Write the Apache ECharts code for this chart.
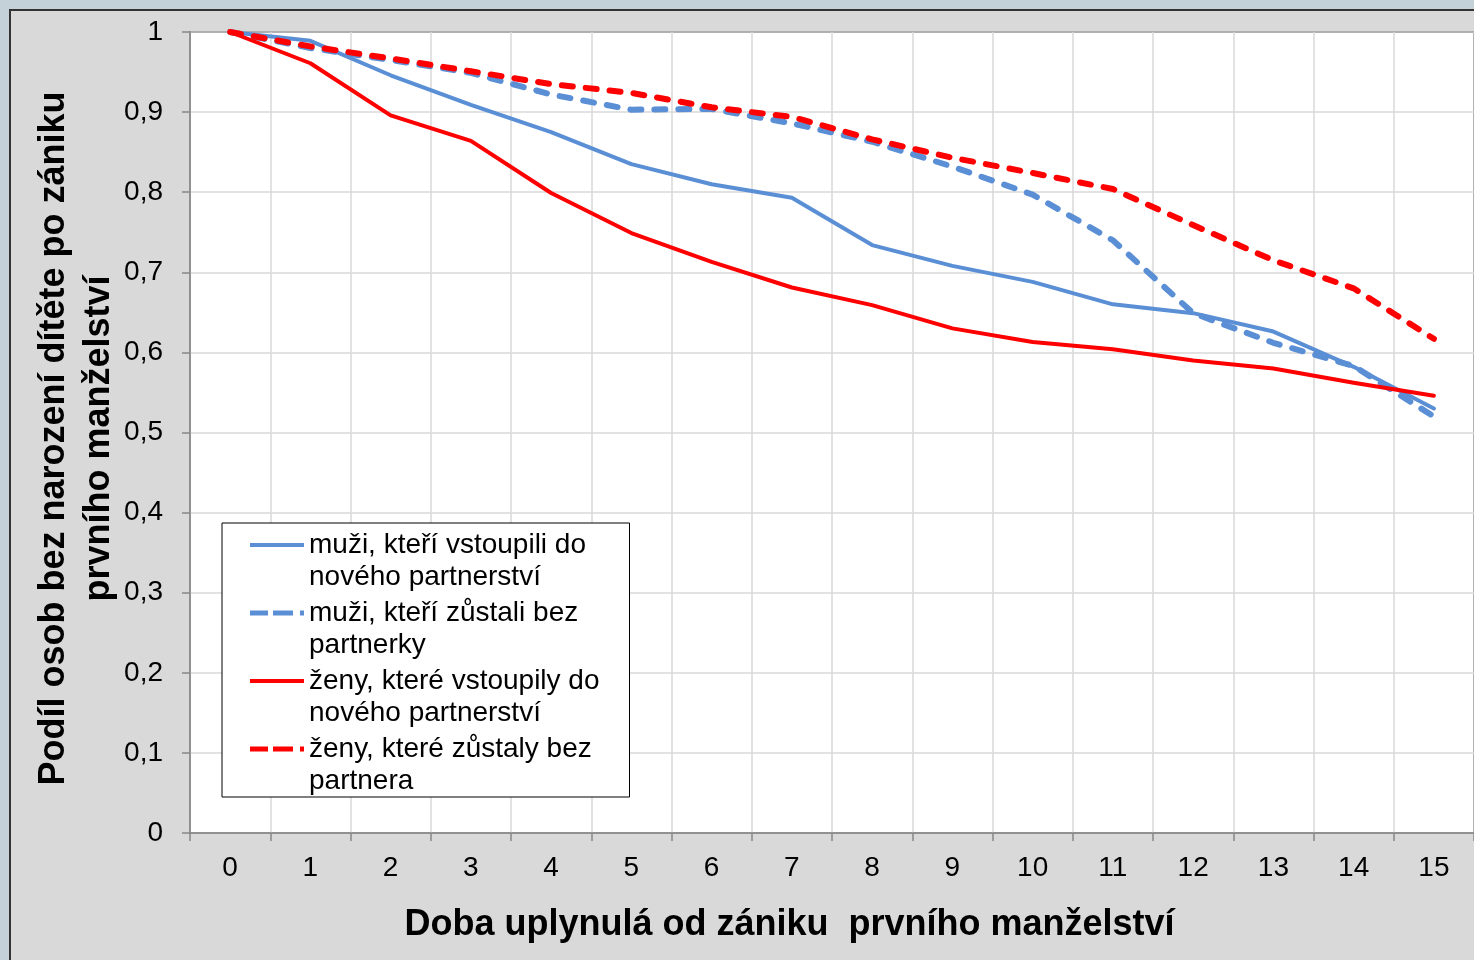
<!DOCTYPE html>
<html>
<head>
<meta charset="utf-8">
<script src="https://cdn.jsdelivr.net/npm/echarts@6/dist/echarts.min.js"></script>
<style>
  html, body { margin: 0; padding: 0; background: #c5d1d9; }
  #chart { width: 1474px; height: 960px; }
</style>
</head>
<body>
<div id="chart"></div>
<script>
// roky od zániku prvního manželství
var years = ['0', '1', '2', '3', '4', '5', '6', '7', '8', '9', '10', '11', '12', '13', '14', '15'];

var muziVstoupili = [1.0, 0.989, 0.946, 0.909, 0.875, 0.835, 0.81, 0.793, 0.734, 0.708, 0.688, 0.66, 0.649, 0.626, 0.582, 0.53];
var muziZustali   = [1.0, 0.98, 0.965, 0.949, 0.922, 0.903, 0.904, 0.886, 0.863, 0.832, 0.797, 0.74, 0.649, 0.612, 0.583, 0.52];
var zenyVstoupily = [1.0, 0.961, 0.896, 0.864, 0.799, 0.749, 0.713, 0.681, 0.659, 0.63, 0.613, 0.604, 0.59, 0.58, 0.562, 0.546];
var zenyZustaly   = [1.0, 0.982, 0.967, 0.951, 0.935, 0.924, 0.906, 0.894, 0.866, 0.843, 0.824, 0.804, 0.759, 0.715, 0.68, 0.617];

var names = [
  'muži, kteří vstoupili do\nnového partnerství',
  'muži, kteří zůstali bez\npartnerky',
  'ženy, které vstoupily do\nnového partnerství',
  'ženy, které zůstaly bez\npartnera'
];

var BLUE = '#5a8fd6';
var RED = '#ff0000';
var FONT = '"Liberation Sans", Arial, sans-serif';

// ikonky legendy - cara nahore (zarovnani s prvnim radkem textu)
var iconSolid = 'path://M0,0L0,0M0,64L0,64M0,14L54,14L54,18L0,18Z';
var iconDash = 'path://M0,0L0,0M0,64L0,64M0,13.5L18,13.5L18,18.5L0,18.5ZM23,13.5L43,13.5L43,18.5L23,18.5ZM50,13.5L54,13.5L54,18.5L50,18.5Z';

var chart = echarts.init(document.getElementById('chart'));

function lineSeries(name, data, color, dashed) {
  return {
    name: name,
    type: 'line',
    data: data,
    symbol: 'none',
    smooth: false,
    lineStyle: dashed
      ? { color: color, width: 6, type: [11, 13], cap: 'round', join: 'round' }
      : { color: color, width: 4, cap: 'round', join: 'round' },
    itemStyle: { color: color }
  };
}

var option = {
  backgroundColor: '#d9d9d9',
  animation: false,
  textStyle: { fontFamily: FONT },
  graphic: [
    { type: 'rect', shape: { x: 0, y: 0, width: 1474, height: 9 }, style: { fill: '#c5d1d9' } },
    { type: 'rect', shape: { x: 0, y: 0, width: 9, height: 960 }, style: { fill: '#c5d1d9' } },
    { type: 'line', shape: { x1: 9, y1: 10, x2: 1474, y2: 10 }, style: { stroke: '#333', lineWidth: 2 } },
    { type: 'line', shape: { x1: 10, y1: 9, x2: 10, y2: 960 }, style: { stroke: '#333', lineWidth: 2 } }
  ],
  grid: {
    left: 190, top: 32, right: -1, bottom: 127,
    show: true, backgroundColor: '#fff', borderColor: '#000', borderWidth: 1.5
  },
  legend: {
    orient: 'vertical',
    left: 222, top: 523,
    backgroundColor: '#fff',
    borderColor: '#000',
    borderWidth: 1,
    borderRadius: 0,
    padding: [6, 30, 0, 28],
    itemWidth: 54,
    itemHeight: 64,
    itemGap: 4,
    symbolKeepAspect: false,
    itemStyle: { borderWidth: 0 },
    textStyle: { fontSize: 28, color: '#000', fontFamily: FONT, lineHeight: 32 },
    data: [
      { name: names[0], icon: iconSolid },
      { name: names[1], icon: iconDash },
      { name: names[2], icon: iconSolid },
      { name: names[3], icon: iconDash }
    ]
  },
  xAxis: {
    type: 'category',
    data: years,
    boundaryGap: true,
    name: 'Doba uplynulá od zániku  prvního manželství',
    nameLocation: 'middle',
    nameGap: 72,
    nameMoveOverlap: false,
    nameTextStyle: { fontSize: 36, fontWeight: 'bold', color: '#000', lineHeight: 40, padding: [0, 85, 0, 0] },
    axisLine: { lineStyle: { color: '#868686', width: 1.5 } },
    axisTick: { show: true, interval: 0, length: 8, lineStyle: { color: '#868686', width: 1.5 } },
    axisLabel: { interval: 0, fontSize: 28, color: '#000', margin: 21 },
    splitLine: { show: true, interval: 0, lineStyle: { color: '#d9d9d9', width: 1.5 } }
  },
  yAxis: {
    type: 'value',
    min: 0, max: 1, interval: 0.1,
    name: 'Podíl osob bez narození dítěte po zániku\nprvního manželství',
    nameLocation: 'middle',
    nameRotate: 90,
    nameGap: 68,
    nameMoveOverlap: false,
    nameTextStyle: { fontSize: 36, fontWeight: 'bold', color: '#000', lineHeight: 45, align: 'center', padding: [0, 12, 0, 0] },
    axisLine: { show: true, lineStyle: { color: '#868686', width: 1.5 } },
    axisTick: { show: true, length: 8, lineStyle: { color: '#868686', width: 1.5 } },
    axisLabel: {
      fontSize: 28, color: '#000', margin: 27,
      formatter: function (v) {
        if (v === 0 || v === 1) return String(v);
        return v.toFixed(1).replace('.', ',');
      }
    },
    splitLine: { show: true, lineStyle: { color: '#d9d9d9', width: 1.5 } }
  },
  series: [
    lineSeries(names[0], muziVstoupili, BLUE, false),
    lineSeries(names[1], muziZustali, BLUE, true),
    lineSeries(names[2], zenyVstoupily, RED, false),
    lineSeries(names[3], zenyZustaly, RED, true)
  ]
};

chart.setOption(option);
</script>
</body>
</html>
